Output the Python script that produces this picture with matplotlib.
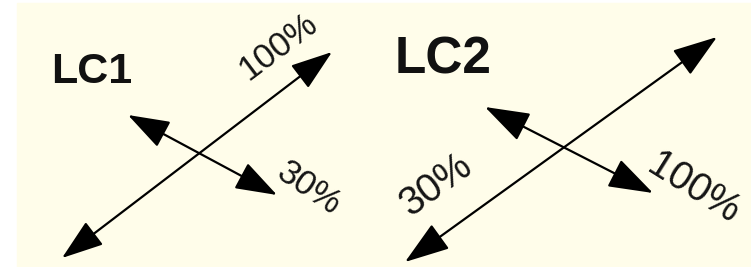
import matplotlib
matplotlib.use('Agg')
import matplotlib.pyplot as plt
from matplotlib.patches import FancyArrowPatch, Rectangle

plt.rcParams['font.family'] = ['Liberation Sans', 'DejaVu Sans']

# panel titles
titles = ['LC1', 'LC2']
title_pos = [(51, 83), (395, 73)]
title_size = [31, 37]

# double arrows (tail, head) in picture pixels
arrows_lc1 = [((62, 258), (332, 52)), ((128, 115), (277, 195))]
arrows_lc2 = [((405, 262), (717, 37)), ((485, 107), (653, 193))]

# percentage labels: text, centre, rotation, size
labels = ['100%', '30%', '30%', '100%']
label_pos = [(278, 47), (309, 189), (436, 185), (694, 188)]
label_rot = [37, -34, 36, -32]
label_size = [25, 25, 28.5, 28.5]

W, H = 751, 267
cream = '#fffdea'

fig = plt.figure(figsize=(W / 100, H / 100), dpi=100)
fig.patch.set_facecolor('white')
ax = fig.add_axes([0, 0, 1, 1])
ax.set_xlim(0, W)
ax.set_ylim(H, 0)
ax.axis('off')

ax.add_patch(Rectangle((17, 3), W - 17, H - 3, color=cream, zorder=0))


def draw_arrows(arrows, hl, hw):
    for a, b in arrows:
        p = FancyArrowPatch(a, b, arrowstyle=f'<|-|>,head_length={hl},head_width={hw}',
                            mutation_scale=1, lw=1.6, color='black',
                            shrinkA=0, shrinkB=0, zorder=2)
        ax.add_patch(p)


draw_arrows(arrows_lc1, 26, 9)
draw_arrows(arrows_lc2, 28, 9.5)

for t, (x, y), s in zip(titles, title_pos, title_size):
    ax.text(x, y, t, fontsize=s, fontweight='bold', ha='left', va='baseline',
            color='#111111')

for t, (x, y), r, s in zip(labels, label_pos, label_rot, label_size):
    ax.text(x, y, t, fontsize=s, rotation=r, ha='center', va='center',
            color='#151515')

fig.savefig('out.png', dpi=100, facecolor=fig.get_facecolor())
